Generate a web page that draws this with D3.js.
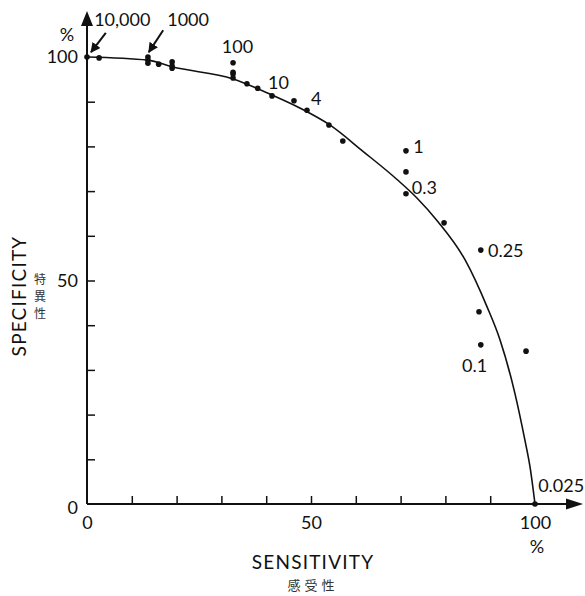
<!DOCTYPE html>
<html>
<head>
<meta charset="utf-8">
<script src="https://cdn.jsdelivr.net/npm/d3@7"></script>
<style>
    body { margin: 0; background: #ffffff; }
    svg { display: block; font-family: Lato, "Noto Sans", sans-serif; }
    .axis path { display: none; }
    .axis line { stroke: #111; stroke-width: 1.5; }
    .axis text { fill: #111; font-size: 18px; font-family: Lato, "Noto Sans", sans-serif; }
</style>
</head>
<body>
<svg id="chart" width="585" height="596"></svg>
<script>
// Observed points (sensitivity %, specificity %)
var sensitivity = [0, 2.7, 13.6, 13.6, 13.6, 16, 19, 19, 19, 32.6, 32.6, 32.6, 32.6, 35.7, 38.1, 41.3,
    46.2, 49.1, 54, 57.1, 71.2, 71.2, 71.2, 79.7, 87.9, 87.5, 87.9, 98, 100];
var specificity = [100, 99.8, 100, 99.3, 98.6, 98.4, 98.9, 98, 97.5, 98.7, 96.6, 96.2, 95.3, 94, 93, 91.3,
    90.2, 88.1, 84.8, 81.2, 79, 74.3, 69.4, 62.9, 56.8, 43, 35.6, 34.2, 0];

// Fitted ROC curve
var curveSens = [0, 13.6, 19, 32.6, 41.3, 47.5, 54.2, 61.6, 69.2, 73.7, 78.3, 84.4, 89.3, 92.2, 95.5, 97.6, 99, 100];
var curveSpec = [100, 99.3, 97.8, 95.1, 91.5, 88.6, 84.8, 78.9, 72.6, 68.4, 63.2, 54.6, 44.1, 36.7, 24.8, 15, 7.6, 0];

// Cut-off annotations
var cutLabels = ["10,000", "1000", "100", "10", "4", "1", "0.3", "0.25", "0.1", "0.025"];
var cutSens = [1.6, 17.9, 30.1, 40.4, 50.0, 72.8, 72.5, 89.5, 83.7, 100.7];
var cutSpec = [106.9, 106.9, 100.9, 92.8, 89.3, 78.5, 69.4, 55.3, 29.5, 2.7];

var xTicks = [0, 10, 20, 30, 40, 50, 60, 70, 80, 90, 100];
var yTicks = [0, 10, 20, 30, 40, 50, 60, 70, 80, 90, 100];
var tickLabels = [0, 50, 100];

var svg = d3.select("#chart");

svg.append("rect").attr("width", 585).attr("height", 596).attr("fill", "#ffffff");

var x = d3.scaleLinear().domain([0, 100]).range([87, 535]);
var y = d3.scaleLinear().domain([0, 100]).range([504, 57]);

// Axes: ticks point into the plot, labels only at 0, 50, 100
var xAxis = svg.append("g")
    .attr("class", "axis")
    .attr("transform", "translate(0," + y(0) + ")")
    .call(d3.axisBottom(x)
        .tickValues(xTicks)
        .tickSize(-8)
        .tickPadding(12)
        .tickFormat(function(d) { return tickLabels.indexOf(d) >= 0 ? d : ""; }));

xAxis.selectAll(".tick line")
    .filter(function(d) { return d === 0 || d === 100; })
    .remove();

var yAxis = svg.append("g")
    .attr("class", "axis")
    .attr("transform", "translate(" + x(0) + ",0)")
    .call(d3.axisLeft(y)
        .tickValues(yTicks)
        .tickSize(-8)
        .tickPadding(9)
        .tickFormat(function(d) { return tickLabels.indexOf(d) >= 0 ? d : ""; }));

yAxis.selectAll(".tick line")
    .filter(function(d) { return d === 0 || d === 100; })
    .remove();

// x=0 label on the y side sits a little lower
yAxis.selectAll(".tick text")
    .filter(function(d) { return d === 0; })
    .attr("dy", "0.55em");

// Axis lines with arrow heads
svg.append("line")
    .attr("x1", x(0)).attr("y1", y(0))
    .attr("x2", x(0)).attr("y2", 24)
    .attr("stroke", "#111").attr("stroke-width", 2);

svg.append("path")
    .attr("d", "M" + x(0) + ",11 L" + (x(0) - 6) + ",26 L" + (x(0) + 6) + ",26 Z")
    .attr("fill", "#111");

svg.append("line")
    .attr("x1", x(0)).attr("y1", y(0))
    .attr("x2", 568).attr("y2", y(0))
    .attr("stroke", "#111").attr("stroke-width", 2);

svg.append("path")
    .attr("d", "M583," + y(0) + " L566," + (y(0) - 5.5) + " L566," + (y(0) + 5.5) + " Z")
    .attr("fill", "#111");

// Curve
var curveData = curveSens.map(function(d, i) { return [d, curveSpec[i]]; });

var line = d3.line()
    .x(function(d) { return x(d[0]); })
    .y(function(d) { return y(d[1]); })
    .curve(d3.curveMonotoneX);

svg.append("path")
    .datum(curveData)
    .attr("d", line)
    .attr("fill", "none")
    .attr("stroke", "#111")
    .attr("stroke-width", 1.6);

// Points
svg.append("g")
    .selectAll("circle")
    .data(sensitivity)
    .enter().append("circle")
        .attr("cx", function(d) { return x(d); })
        .attr("cy", function(d, i) { return y(specificity[i]); })
        .attr("r", 2.8)
        .attr("fill", "#111");

// Cut-off labels
svg.append("g")
    .selectAll("text")
    .data(cutLabels)
    .enter().append("text")
        .attr("x", function(d, i) { return x(cutSens[i]); })
        .attr("y", function(d, i) { return y(cutSpec[i]); })
        .attr("font-size", 18)
        .attr("fill", "#111")
        .text(function(d) { return d; });

// Pointer arrows for 10,000 and 1000
svg.append("defs").append("marker")
    .attr("id", "head")
    .attr("viewBox", "0 0 10 10")
    .attr("refX", 9).attr("refY", 5)
    .attr("markerWidth", 10).attr("markerHeight", 10)
    .attr("markerUnits", "userSpaceOnUse")
    .attr("orient", "auto")
    .append("path")
        .attr("d", "M0,0 L10,5 L0,10 Z")
        .attr("fill", "#111");

var pointers = [[4.2, 105.4, 0.9, 101.1], [17, 106, 13.8, 101.1]];

svg.append("g")
    .selectAll("line")
    .data(pointers)
    .enter().append("line")
        .attr("x1", function(d) { return x(d[0]); })
        .attr("y1", function(d) { return y(d[1]); })
        .attr("x2", function(d) { return x(d[2]); })
        .attr("y2", function(d) { return y(d[3]); })
        .attr("stroke", "#111")
        .attr("stroke-width", 2)
        .attr("marker-end", "url(#head)");

// Units
svg.append("text").attr("x", 67).attr("y", 41).attr("text-anchor", "middle")
    .attr("font-size", 18).attr("fill", "#111").text("%");
svg.append("text").attr("x", 537).attr("y", 553).attr("text-anchor", "middle")
    .attr("font-size", 18).attr("fill", "#111").text("%");

// Axis titles
svg.append("text")
    .attr("x", 313).attr("y", 569)
    .attr("text-anchor", "middle")
    .attr("font-size", 19)
    .attr("letter-spacing", 1.2)
    .attr("fill", "#111")
    .text("SENSITIVITY");

svg.append("text")
    .attr("x", 313).attr("y", 590)
    .attr("text-anchor", "middle")
    .attr("font-size", 13)
    .attr("letter-spacing", 4)
    .attr("font-family", "'Noto Sans CJK JP', sans-serif")
    .attr("fill", "#333")
    .text("感受性");

svg.append("text")
    .attr("transform", "translate(26,296) rotate(-90)")
    .attr("text-anchor", "middle")
    .attr("font-size", 19)
    .attr("letter-spacing", 1.2)
    .attr("fill", "#111")
    .text("SPECIFICITY");

svg.append("g")
    .selectAll("text")
    .data(["特", "異", "性"])
    .enter().append("text")
        .attr("x", 40)
        .attr("y", function(d, i) { return 284 + i * 17; })
        .attr("text-anchor", "middle")
        .attr("font-size", 12)
        .attr("font-family", "'Noto Sans CJK JP', sans-serif")
        .attr("fill", "#333")
        .text(function(d) { return d; });
</script>
</body>
</html>
